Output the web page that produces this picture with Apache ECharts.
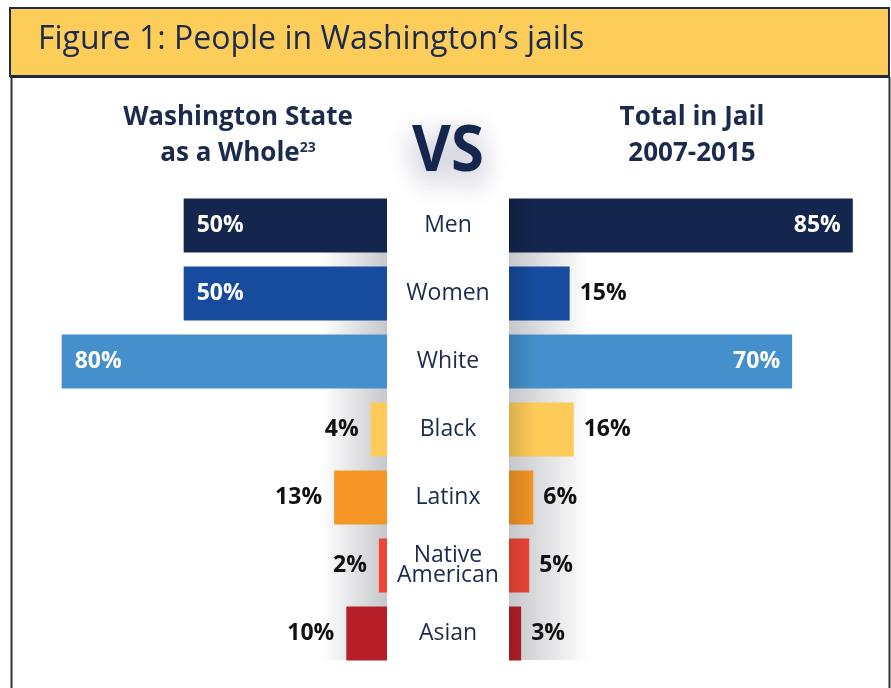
<!DOCTYPE html>
<html>
<head>
<meta charset="utf-8">
<script src="https://cdn.jsdelivr.net/npm/echarts@6/dist/echarts.min.js"></script>
<style>
  html, body { margin: 0; padding: 0; background: #fff; }
  #chart { width: 891px; height: 688px; }
</style>
</head>
<body>
<div id="chart"></div>
<script>
const categories = ['Men', 'Women', 'White', 'Black', 'Latinx', 'Native American', 'Asian']
const stateShare = [50, 50, 80, 4, 13, 2, 10]
const jailShare = [85, 15, 70, 16, 6, 5, 3]
const barColors = ['#14264d', '#164b9d', '#4590cc', '#fecb58', '#f59525', '#ef4638', '#b71f28']

const navy = '#1b2a4d'
const font = 'Open Sans'

// darken a hex colour a little, used for the shadow at the inner end of the right bars
function shade(hex, k) {
  const n = parseInt(hex.slice(1), 16)
  const r = Math.round(((n >> 16) & 255) * k)
  const g = Math.round(((n >> 8) & 255) * k)
  const b = Math.round((n & 255) * k)
  return 'rgb(' + r + ',' + g + ',' + b + ')'
}

const myChart = echarts.init(document.getElementById('chart'))

const gridTop = 191.5
const gridHeight = 476
const axisMax = 90

myChart.setOption({
  animation: false,
  backgroundColor: '#fff',
  grid: [
    { left: 21, width: 366, top: gridTop, height: gridHeight, outerBoundsMode: 'none' },
    { left: 509, width: 364, top: gridTop, height: gridHeight, outerBoundsMode: 'none' }
  ],
  xAxis: [
    { gridIndex: 0, type: 'value', min: 0, max: axisMax, inverse: true, show: false },
    { gridIndex: 1, type: 'value', min: 0, max: axisMax, show: false }
  ],
  yAxis: [
    { gridIndex: 0, type: 'category', data: categories, inverse: true, show: false },
    {
      gridIndex: 1,
      type: 'category',
      data: categories,
      inverse: true,
      axisLine: { show: false },
      axisTick: { show: false },
      splitLine: { show: false },
      axisLabel: {
        align: 'center',
        margin: 61,
        color: navy,
        fontFamily: font,
        fontSize: 23,
        lineHeight: 20,
        formatter: v => v === 'Native American' ? 'Native\nAmerican' : v
      }
    }
  ],
  graphic: [
    // soft shadows either side of the centre column
    {
      type: 'rect', z: 0,
      shape: { x: 322, y: 199, width: 65, height: 461 },
      style: {
        fill: new echarts.graphic.LinearGradient(0, 0, 1, 0, [
          { offset: 0, color: '#ffffff' },
          { offset: 1, color: '#c6c7cb' }
        ])
      }
    },
    {
      type: 'rect', z: 0,
      shape: { x: 509, y: 199, width: 80, height: 461 },
      style: {
        fill: new echarts.graphic.LinearGradient(0, 0, 1, 0, [
          { offset: 0, color: '#c6c7cb' },
          { offset: 1, color: '#ffffff' }
        ])
      }
    },
    // title band and frame
    {
      type: 'rect', z: 10,
      shape: { x: 10, y: 8, width: 879, height: 68 },
      style: { fill: '#fdcd59', stroke: '#1f2d4d', lineWidth: 2 }
    },
    {
      type: 'line', z: 10,
      shape: { x1: 10, y1: 76.5, x2: 889, y2: 76.5 },
      style: { stroke: '#1f2a3d', lineWidth: 3 }
    },
    {
      type: 'line', z: 10,
      shape: { x1: 11.5, y1: 77, x2: 11.5, y2: 688 },
      style: { stroke: '#333', lineWidth: 2 }
    },
    {
      type: 'line', z: 10,
      shape: { x1: 889.5, y1: 77, x2: 889.5, y2: 688 },
      style: { stroke: '#333', lineWidth: 2 }
    },
    {
      type: 'text', z: 11, x: 38, y: 40,
      style: {
        text: 'Figure 1: People in Washington’s jails',
        fill: navy, font: '32px "Open Sans"',
        verticalAlign: 'middle'
      }
    },
    // column headers
    {
      type: 'text', z: 11, x: 238, y: 118,
      style: {
        text: 'Washington State',
        fill: navy, font: 'bold 26px "Open Sans"',
        align: 'center', verticalAlign: 'middle'
      }
    },
    {
      type: 'text', z: 11, x: 238, y: 154,
      style: {
        text: '{m|as a Whole}{s|23}',
        align: 'center', verticalAlign: 'middle',
        rich: {
          m: { fill: navy, fontFamily: font, fontWeight: 'bold', fontSize: 26 },
          s: { fill: navy, fontFamily: font, fontWeight: 'bold', fontSize: 14, verticalAlign: 'top' }
        }
      }
    },
    {
      type: 'text', z: 11, x: 692, y: 118,
      style: {
        text: 'Total in Jail',
        fill: navy, font: 'bold 26px "Open Sans"',
        align: 'center', verticalAlign: 'middle'
      }
    },
    {
      type: 'text', z: 11, x: 692, y: 154,
      style: {
        text: '2007-2015',
        fill: navy, font: 'bold 26px "Open Sans"',
        align: 'center', verticalAlign: 'middle'
      }
    },
    {
      type: 'text', z: 11, x: 448, y: 152, scaleX: 0.92,
      style: {
        text: 'VS',
        fill: '#14264d', font: 'bold 65px "Open Sans"',
        align: 'center', verticalAlign: 'middle',
        textShadowColor: 'rgba(40,40,90,0.45)',
        textShadowBlur: 28,
        textShadowOffsetY: 10
      }
    }
  ],
  series: [
    {
      type: 'bar',
      xAxisIndex: 0,
      yAxisIndex: 0,
      barWidth: 54,
      z: 2,
      label: {
        show: true,
        formatter: '{c}%',
        fontFamily: font,
        fontWeight: 'bold',
        fontSize: 23
      },
      data: stateShare.map((v, i) => ({
        value: v,
        itemStyle: { color: barColors[i] },
        label: v >= 20
          ? { position: 'insideLeft', color: '#fff', distance: 13 }
          : { position: 'left', color: '#111', distance: 12 }
      }))
    },
    {
      type: 'bar',
      xAxisIndex: 1,
      yAxisIndex: 1,
      barWidth: 54,
      z: 2,
      label: {
        show: true,
        formatter: '{c}%',
        fontFamily: font,
        fontWeight: 'bold',
        fontSize: 23
      },
      data: jailShare.map((v, i) => ({
        value: v,
        itemStyle: {
          color: {
            type: 'linear', x: 509, y: 0, x2: 535, y2: 0, global: true,
            colorStops: [
              { offset: 0, color: shade(barColors[i], 0.86) },
              { offset: 1, color: barColors[i] }
            ]
          }
        },
        label: v >= 20
          ? { position: 'insideRight', color: '#fff', distance: 12 }
          : { position: 'right', color: '#111', distance: 10 }
      }))
    }
  ]
})
</script>
</body>
</html>
